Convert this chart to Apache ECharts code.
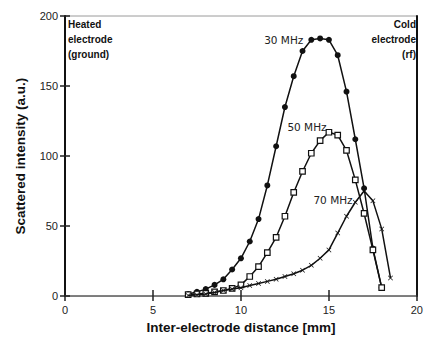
<!DOCTYPE html>
<html>
<head>
<meta charset="utf-8">
<script src="https://cdn.jsdelivr.net/npm/echarts@6/dist/echarts.min.js"></script>
<style>
  html, body { margin: 0; padding: 0; background: #fff; }
  #main { width: 426px; height: 339px; }
</style>
</head>
<body>
<div id="main"></div>
<script>
// distances (mm) and scattered intensity (a.u.)
const dist30 = [7, 7.5, 8, 8.5, 9, 9.5, 10, 10.5, 11, 11.5, 12, 12.5, 13, 13.5, 14, 14.5, 15, 15.5, 16, 16.5, 17, 17.5, 18];
const int30 = [1.5, 3, 5, 8, 12, 19, 27, 39, 55, 79, 107, 135, 157, 175, 183, 184, 183, 172, 146, 112, 77, 34, 6];

const dist50 = [7, 7.5, 8, 8.5, 9, 9.5, 10, 10.5, 11, 11.5, 12, 12.5, 13, 13.5, 14, 14.5, 15, 15.5, 16, 16.5, 17, 17.5, 18];
const int50 = [1, 1.5, 2, 3, 4, 5.5, 8, 14, 21, 31, 42, 57, 74, 89, 102, 111, 117, 115, 104, 83, 59, 33, 6];

const dist70 = [7, 7.5, 8, 8.5, 9, 9.5, 10, 10.5, 11, 11.5, 12, 12.5, 13, 13.5, 14, 14.5, 15, 15.5, 16, 16.5, 17, 17.5, 18, 18.5];
const int70 = [0.5, 1, 1.5, 2.5, 4, 5, 6, 7.5, 9, 10.5, 12, 14, 16, 18.5, 22, 27, 33, 45, 57, 67, 75, 68, 48, 13];

const xTicks = [0, 5, 10, 15, 20];
const yTicks = [0, 50, 100, 150, 200];

const seriesNames = ['30 MHz', '50 MHz', '70 MHz'];
const labelAt = [14, 15, 17]; // distance where each curve's label sits

const heatedLines = ['Heated', 'electrode', '(ground)'];
const coldLines = ['Cold', 'electrode', '(rf)'];

const crossPath = 'path://M0 1L1 0L5 4L9 0L10 1L6 5L10 9L9 10L5 6L1 10L0 9L4 5Z';
const labelFont = 'DejaVu Sans';

function makeData(xs, ys, name, at, lab) {
  return xs.map((x, i) => {
    if (x !== at) return [x, ys[i]];
    return {
      value: [x, ys[i]],
      label: Object.assign({
        show: true,
        formatter: name,
        position: 'left',
        distance: 5,
        color: '#222',
        fontSize: 10.5,
        fontFamily: labelFont
      }, lab)
    };
  });
}

// corner notes, one text element per line
function cornerText(lines, side) {
  return lines.map((t, i) => {
    const el = {
      type: 'text', top: 19 + i * 15,
      style: { text: t, fill: '#111', font: 'bold 10px "Liberation Sans"' }
    };
    if (side === 'left') el.left = 68; else el.right = 10;
    return el;
  });
}

const chart = echarts.init(document.getElementById('main'), null, { renderer: 'svg' });

const tickFont = { color: '#222', fontSize: 11, fontFamily: 'Liberation Sans' };

chart.setOption({
  animation: false,
  backgroundColor: '#fff',
  grid: {
    left: 65, right: 6, top: 16, bottom: 41,
    show: true, borderColor: '#9a9a9a', borderWidth: 1
  },
  xAxis: [
    {
      type: 'value', min: xTicks[0], max: xTicks[xTicks.length - 1], interval: 5,
      position: 'bottom',
      name: 'Inter-electrode distance [mm]',
      nameLocation: 'middle', nameGap: 22,
      nameTextStyle: { color: '#111', fontSize: 13.5, fontWeight: 'bold', fontFamily: 'Liberation Sans' },
      axisLine: { lineStyle: { color: '#666', width: 1.5 } },
      axisTick: { inside: false, length: 5, lineStyle: { color: '#222', width: 1.5 } },
      axisLabel: Object.assign({ margin: 8 }, tickFont),
      splitLine: { show: false }
    },
    {
      type: 'value', min: xTicks[0], max: xTicks[xTicks.length - 1], interval: 5,
      position: 'bottom',
      axisLine: { show: false },
      axisTick: { inside: true, length: 6, lineStyle: { color: '#222', width: 1.5 } },
      axisLabel: { show: false },
      splitLine: { show: false }
    }
  ],
  yAxis: [
    {
      type: 'value', min: yTicks[0], max: yTicks[yTicks.length - 1], interval: 50,
      position: 'left',
      name: 'Scattered intensity (a.u.)',
      nameLocation: 'middle', nameGap: 38,
      nameTextStyle: { color: '#111', fontSize: 13.5, fontWeight: 'bold', fontFamily: 'Liberation Sans' },
      axisLine: { lineStyle: { color: '#111', width: 2 } },
      axisTick: { inside: false, length: 5, lineStyle: { color: '#222', width: 1.5 } },
      axisLabel: Object.assign({ margin: 7 }, tickFont),
      splitLine: { show: false }
    },
    {
      type: 'value', min: yTicks[0], max: yTicks[yTicks.length - 1], interval: 50,
      position: 'left',
      axisLine: { show: false },
      axisTick: { inside: true, length: 5, lineStyle: { color: '#222', width: 1.5 } },
      axisLabel: { show: false },
      splitLine: { show: false }
    },
    {
      type: 'value', min: yTicks[0], max: yTicks[yTicks.length - 1], interval: 50,
      position: 'right',
      axisLine: { show: true, lineStyle: { color: '#111', width: 2 } },
      axisTick: { show: false },
      axisLabel: { show: false },
      splitLine: { show: false }
    }
  ],
  graphic: cornerText(heatedLines, 'left').concat(cornerText(coldLines, 'right')),
  series: [
    {
      name: seriesNames[0], type: 'line',
      data: makeData(dist30, int30, seriesNames[0], labelAt[0], {}),
      symbol: 'circle', symbolSize: 6,
      itemStyle: { color: '#111' },
      lineStyle: { color: '#111', width: 1.5 },
      z: 3
    },
    {
      name: seriesNames[1], type: 'line',
      data: makeData(dist50, int50, seriesNames[1], labelAt[1], { offset: [6, -5] }),
      symbol: 'rect', symbolSize: 5.5,
      itemStyle: { color: '#fff', borderColor: '#111', borderWidth: 1.2 },
      lineStyle: { color: '#111', width: 1.5 },
      z: 4
    },
    {
      name: seriesNames[2], type: 'line',
      data: makeData(dist70, int70, seriesNames[2], labelAt[2], { offset: [-4, 9] }),
      symbol: crossPath, symbolSize: 5,
      itemStyle: { color: '#111' },
      lineStyle: { color: '#111', width: 1.5 },
      z: 5
    }
  ]
});
</script>
</body>
</html>
